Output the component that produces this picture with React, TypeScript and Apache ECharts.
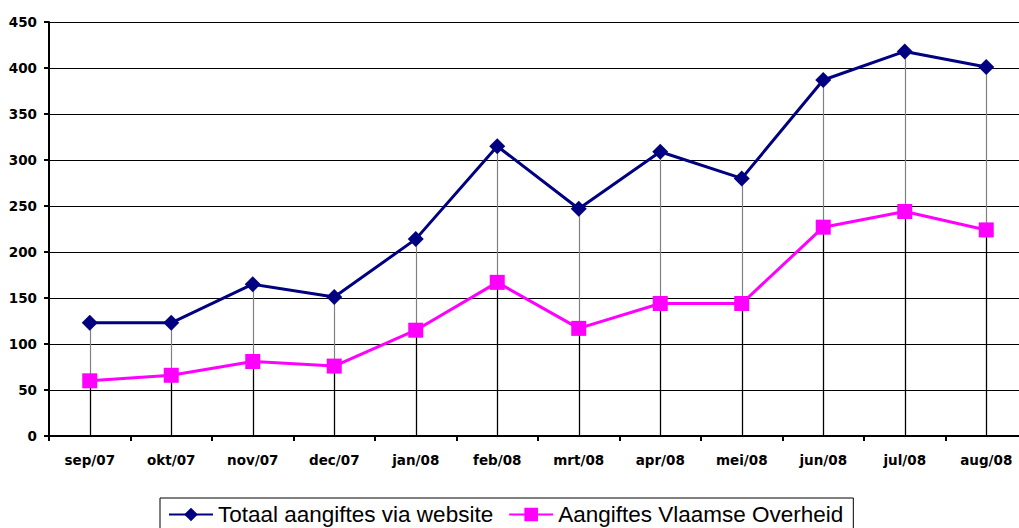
import React, { useEffect, useRef } from "react";
import * as echarts from "echarts";

const categories = ["sep/07", "okt/07", "nov/07", "dec/07", "jan/08", "feb/08", "mrt/08", "apr/08", "mei/08", "jun/08", "jul/08", "aug/08"];
const totaal = [123, 123, 165, 151, 214, 315, 247, 309, 280, 387, 418, 401];
const vlaams = [60, 66, 81, 76, 115, 167, 117, 144, 144, 227, 244, 224];
const seriesNames = ["Totaal aangiftes via website", "Aangiftes Vlaamse Overheid"];
const yTicks = { min: 0, max: 450, interval: 50 };

const AXIS_FONT = "'DejaVu Sans', Verdana, sans-serif";
const LEGEND_FONT = "Arial, 'Liberation Sans', sans-serif";

function dropSeries(values: number[], color: string, z: number) {
  return {
    type: "custom",
    silent: true,
    z,
    data: values.map((v, i) => [i, v]),
    renderItem: (params: any, api: any) => {
      const p = api.coord([api.value(0), api.value(1)]);
      const b = api.coord([api.value(0), 0]);
      return {
        type: "line",
        shape: { x1: Math.round(p[0]) + 0.5, y1: p[1], x2: Math.round(b[0]) + 0.5, y2: b[1] },
        style: { stroke: color, lineWidth: 1.2 },
      };
    },
  };
}

export default function App() {
  const ref = useRef<HTMLDivElement>(null);
  useEffect(() => {
    if (!ref.current) return;
    const chart = echarts.init(ref.current, undefined, { renderer: "svg" });
    chart.setOption({
      animation: false,
      backgroundColor: "#ffffff",
      grid: { left: 49, top: 22, height: 414, width: 978, containLabel: false },
      legend: {
        data: seriesNames,
        left: 160,
        top: 498,
        itemWidth: 44,
        itemHeight: 17,
        itemGap: 15,
        padding: [5, 10, 8, 8],
        borderColor: "#000",
        borderWidth: 1,
        textStyle: { fontFamily: LEGEND_FONT, fontSize: 22.5, color: "#000" },
      },
      xAxis: {
        type: "category",
        data: categories,
        boundaryGap: true,
        axisLine: { lineStyle: { color: "#000", width: 2 } },
        axisTick: { show: true, length: 5, lineStyle: { color: "#000", width: 2 } },
        axisLabel: { fontFamily: AXIS_FONT, fontSize: 13.5, fontWeight: "bold", color: "#000", margin: 17, interval: 0 },
        splitLine: { show: false },
      },
      yAxis: {
        type: "value",
        min: yTicks.min,
        max: yTicks.max,
        interval: yTicks.interval,
        axisLine: { show: true, lineStyle: { color: "#000", width: 2 } },
        axisTick: { show: true, length: 5, lineStyle: { color: "#000", width: 2 } },
        axisLabel: { fontFamily: AXIS_FONT, fontSize: 13.5, fontWeight: "bold", color: "#000", margin: 12 },
        splitLine: { show: true, lineStyle: { color: "#000", width: 1 } },
      },
      series: [
        dropSeries(totaal, "#808080", 1),
        dropSeries(vlaams, "#000000", 2),
        {
          name: seriesNames[0],
          type: "line",
          data: totaal,
          z: 5,
          symbol: "diamond",
          symbolSize: 16,
          itemStyle: { color: "#000080" },
          lineStyle: { color: "#000080", width: 3 },
        },
        {
          name: seriesNames[1],
          type: "line",
          data: vlaams,
          z: 4,
          symbol: "rect",
          symbolSize: 15,
          itemStyle: { color: "#FF00FF" },
          lineStyle: { color: "#FF00FF", width: 3 },
        },
      ],
    });
    return () => chart.dispose();
  }, []);
  return (
    <div style={{ position: "fixed", left: 0, top: 0, width: 1019, height: 528, overflow: "hidden", background: "#fff" }}>
      <div ref={ref} style={{ width: 1030, height: 528, position: "absolute", left: 0, top: 0 }} />
    </div>
  );
}
